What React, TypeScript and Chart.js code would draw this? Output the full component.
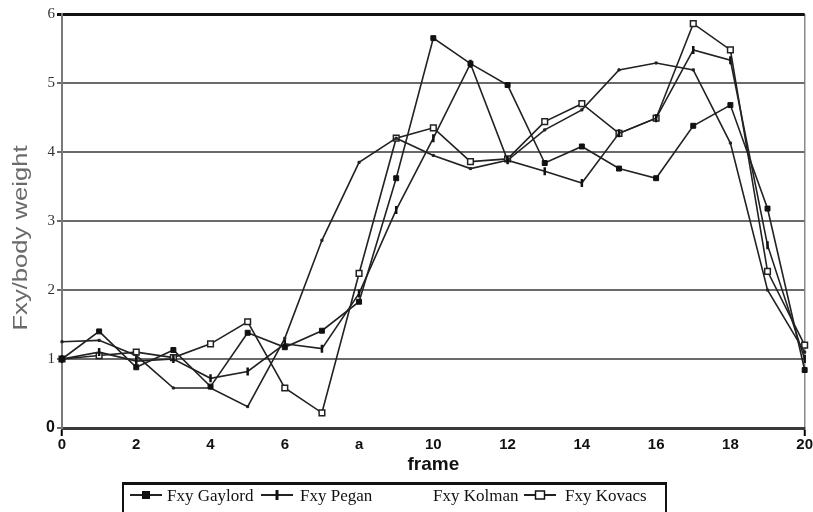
import React, { useEffect, useRef } from "react";
import { Chart, registerables } from "chart.js";

Chart.register(...registerables);

const FRAMES = [0, 1, 2, 3, 4, 5, 6, 7, 8, 9, 10, 11, 12, 13, 14, 15, 16, 17, 18, 19, 20];
const GAYLORD = [1.0, 1.4, 0.88, 1.13, 0.6, 1.38, 1.17, 1.41, 1.83, 3.62, 5.65, 5.28, 4.97, 3.84, 4.08, 3.76, 3.62, 4.38, 4.68, 3.18, 0.84];
const PEGAN = [1.0, 1.1, 0.97, 1.0, 0.72, 0.82, 1.22, 1.15, 1.95, 3.16, 4.2, 5.28, 3.88, 3.72, 3.55, 4.27, 4.49, 5.48, 5.33, 2.65, 1.0];
const KOLMAN = [1.25, 1.27, 1.05, 0.58, 0.58, 0.31, 1.3, 2.72, 3.85, 4.2, 3.95, 3.76, 3.88, 4.32, 4.61, 5.19, 5.29, 5.19, 4.13, 2.0, 1.1];
const KOVACS = [1.0, 1.05, 1.1, 1.02, 1.22, 1.54, 0.58, 0.22, 2.24, 4.2, 4.35, 3.86, 3.9, 4.44, 4.7, 4.27, 4.49, 5.86, 5.48, 2.27, 1.2];

const SERIES_NAMES = ["Fxy Gaylord", "Fxy Pegan", "Fxy Kolman", "Fxy Kovacs"];
const X_TICK_LABELS = ["0", "2", "4", "6", "a", "10", "12", "14", "16", "18", "20"];
const Y_TICK_LABELS = ["0", "1", "2", "3", "4", "5", "6"];
const X_TITLE = "frame";
const Y_TITLE = "Fxy/body weight";

const LINE = "#222";

function drawMarker(ctx: CanvasRenderingContext2D, kind: string, x: number, y: number) {
  ctx.save();
  ctx.strokeStyle = "#111";
  ctx.fillStyle = "#111";
  if (kind === "filled") {
    ctx.fillRect(x - 4, y - 4, 8, 8);
  } else if (kind === "plus") {
    ctx.lineWidth = 3;
    ctx.beginPath();
    ctx.moveTo(x, y - 5);
    ctx.lineTo(x, y + 5);
    ctx.stroke();
  } else if (kind === "open") {
    ctx.fillStyle = "#fff";
    ctx.lineWidth = 1.5;
    ctx.fillRect(x - 4.5, y - 4, 9, 8);
    ctx.strokeRect(x - 4.5, y - 4, 9, 8);
  }
  ctx.restore();
}

const yTitlePlugin = {
  id: "yTitleText",
  afterDraw(chart: any) {
    const ctx = chart.ctx as CanvasRenderingContext2D;
    ctx.save();
    ctx.translate(21, 238);
    ctx.rotate(-Math.PI / 2);
    ctx.scale(1.22, 1);
    ctx.font = '21px "Liberation Sans", Arial, sans-serif';
    ctx.fillStyle = "#6a6a6a";
    ctx.textAlign = "center";
    ctx.textBaseline = "middle";
    ctx.fillText(Y_TITLE, 0, 0);
    ctx.restore();
  },
};

const legendPlugin = {
  id: "boxLegend",
  afterDraw(chart: any) {
    const ctx = chart.ctx as CanvasRenderingContext2D;
    const kinds = ["filled", "plus", "none", "open"];
    const symbolX = [146, 277, -1, 540];
    const textX = [167, 300, 433, 565];
    const y = 495;
    ctx.save();
    ctx.strokeStyle = "#111";
    ctx.lineWidth = 3;
    ctx.beginPath();
    ctx.moveTo(122, 483.5);
    ctx.lineTo(667, 483.5);
    ctx.stroke();
    ctx.lineWidth = 2;
    ctx.beginPath();
    ctx.moveTo(123, 483);
    ctx.lineTo(123, 512);
    ctx.moveTo(666, 483);
    ctx.lineTo(666, 512);
    ctx.stroke();
    chart.data.datasets.forEach((ds: any, i: number) => {
      if (kinds[i] !== "none") {
        ctx.strokeStyle = "#222";
        ctx.lineWidth = 2;
        ctx.beginPath();
        ctx.moveTo(symbolX[i] - 16, y);
        ctx.lineTo(symbolX[i] + 16, y);
        ctx.stroke();
        drawMarker(ctx, kinds[i], symbolX[i], y);
      }
      ctx.font = '17px "Liberation Serif", "Times New Roman", serif';
      ctx.fillStyle = "#111";
      ctx.textAlign = "left";
      ctx.textBaseline = "alphabetic";
      ctx.fillText(ds.label, textX[i], 501);
    });
    ctx.restore();
  },
};

export default function App() {
  const ref = useRef<HTMLCanvasElement>(null);

  useEffect(() => {
    const canvas = ref.current;
    if (!canvas) return;
    const mk = (arr: number[]) => FRAMES.map((f, i) => ({ x: f, y: arr[i] }));
    const base = {
      borderColor: LINE,
      borderWidth: 1.6,
      tension: 0,
      fill: false,
      clip: 8,
    };
    const chart = new Chart(canvas, {
      type: "line",
      data: {
        datasets: [
          {
            ...base,
            label: SERIES_NAMES[0],
            data: mk(GAYLORD),
            pointStyle: "rect",
            pointRadius: 3.5,
            pointBackgroundColor: "#111",
            pointBorderColor: "#111",
            pointBorderWidth: 1,
          },
          {
            ...base,
            label: SERIES_NAMES[1],
            data: mk(PEGAN),
            pointStyle: "line",
            pointRotation: 90,
            pointRadius: 4,
            pointBorderColor: "#111",
            pointBorderWidth: 2.5,
          },
          {
            ...base,
            label: SERIES_NAMES[2],
            data: mk(KOLMAN),
            pointStyle: "rect",
            pointRadius: 1.5,
            pointBackgroundColor: "#222",
            pointBorderColor: "#222",
            pointBorderWidth: 1,
          },
          {
            ...base,
            label: SERIES_NAMES[3],
            data: mk(KOVACS),
            pointStyle: "rect",
            pointRadius: 4,
            pointBackgroundColor: "#fff",
            pointBorderColor: "#222",
            pointBorderWidth: 1.5,
          },
        ] as any,
      },
      options: {
        animation: false,
        responsive: false,
        maintainAspectRatio: false,
        layout: { padding: { top: 14, right: 5, left: 0, bottom: 0 } },
        plugins: { legend: { display: false }, tooltip: { enabled: false } },
        scales: {
          x: {
            type: "linear",
            min: 0,
            max: 20,
            afterFit: (s: any) => {
              s.height = 84;
            },
            ticks: {
              stepSize: 2,
              autoSkip: false,
              maxRotation: 0,
              padding: 0,
              color: "#111",
              font: { family: '"Liberation Sans", Arial, sans-serif', weight: "bold", size: 15 },
              callback: (v: any) => X_TICK_LABELS[Math.round(Number(v) / 2)] ?? "",
            },
            grid: {
              display: true,
              drawOnChartArea: true,
              color: (c: any) => (c.tick && c.tick.value === 20 ? "#8a8a8a" : "rgba(0,0,0,0)"),
              lineWidth: 1.5,
              drawTicks: true,
              tickLength: 8,
              tickWidth: 2,
              tickColor: (c: any) => (c.tick && (c.tick.value === 0 || c.tick.value === 20) ? "#000" : "rgba(0,0,0,0)"),
            },
            border: { display: true, color: "#3a3a3a", width: 3 },
            title: {
              display: true,
              text: X_TITLE,
              color: "#111",
              font: { family: '"Liberation Sans", Arial, sans-serif', weight: "bold", size: 19 },
              padding: { top: 0, bottom: 36 },
            },
          },
          y: {
            type: "linear",
            min: 0,
            max: 6,
            afterFit: (s: any) => {
              s.width = 62;
            },
            ticks: {
              stepSize: 1,
              padding: 2,
              color: (c: any) => (c.tick && c.tick.value === 0 ? "#111" : "#333"),
              font: (c: any) =>
                c.tick && c.tick.value === 0
                  ? { family: '"Liberation Sans", Arial, sans-serif', weight: "bold", size: 16 }
                  : { family: '"Liberation Serif", "Times New Roman", serif', size: 15 },
              callback: (v: any) => Y_TICK_LABELS[Math.round(Number(v))] ?? "",
            },
            grid: {
              color: (c: any) => (c.tick && c.tick.value === 6 ? "#111" : "#6a6a6a"),
              lineWidth: (c: any) => (c.tick && c.tick.value === 6 ? 3 : 2),
              drawTicks: true,
              tickLength: 5,
            },
            border: { display: true, color: "#7a7a7a", width: 2 },
          },
        },
      },
      plugins: [yTitlePlugin, legendPlugin],
    });
    return () => chart.destroy();
  }, []);

  return (
    <div style={{ position: "absolute", left: 0, top: 0, width: 813, height: 512, background: "#fff" }}>
      <canvas ref={ref} width={813} height={512} style={{ display: "block", width: 813, height: 512 }} />
    </div>
  );
}
